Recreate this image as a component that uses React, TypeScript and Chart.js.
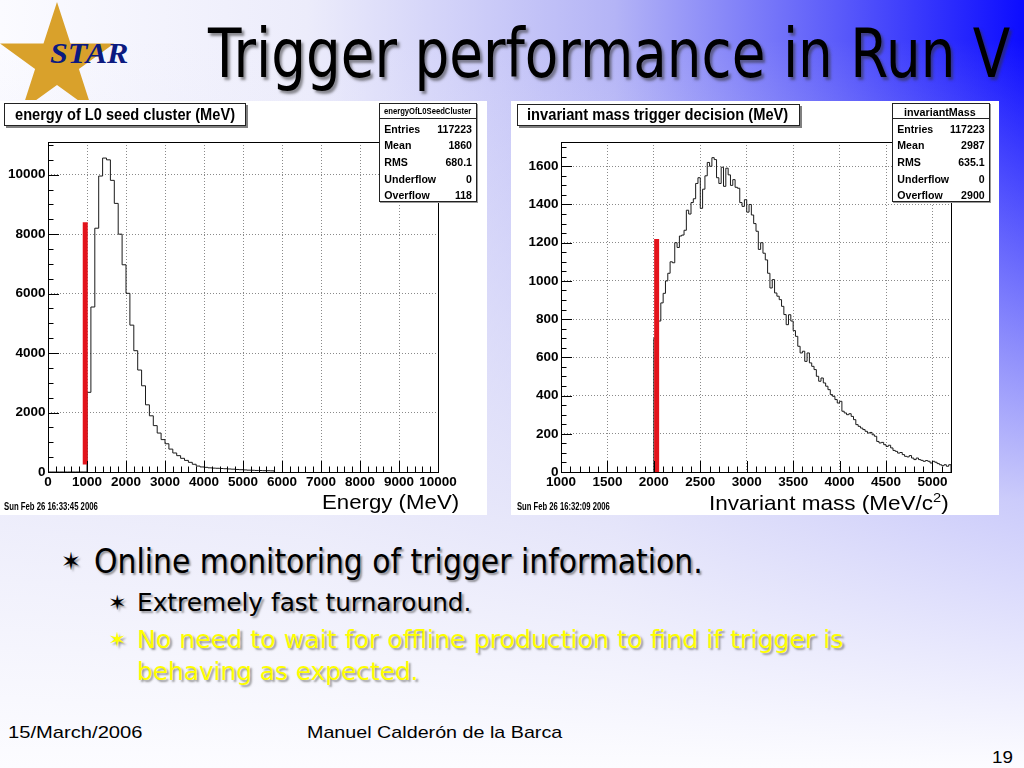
import React, { useEffect, useLayoutEffect, useRef, useState } from "react";
import { Chart, registerables } from "chart.js";

Chart.register(...registerables);

// ================= DATA =================
// Left histogram: energy of L0 seed cluster, 100 MeV bins starting at 0
const energyBinLow = 0;
const energyBinWidth = 100;
const energyCounts = [
  0, 0, 0, 0, 0, 0, 0, 0, 0, 0,
  2680, 5550, 8200, 9955, 10560, 10500, 9810, 9035, 8000, 6970,
  6010, 4940, 4080, 3430, 2900, 2260, 1890, 1560, 1310, 1090,
  950, 770, 640, 550, 460, 390, 325, 260, 200, 170,
  157, 140, 130, 125, 118, 110, 102, 95, 85, 78,
  70, 62, 58, 52, 50, 45, 44, 40,
];
const energyCut = 955;
const energyCutSpan = [250, 8400];
const energyXTicks = [0, 1000, 2000, 3000, 4000, 5000, 6000, 7000, 8000, 9000, 10000];
const energyYTicks = [0, 2000, 4000, 6000, 8000, 10000];
const energyXRange = [0, 10000];
const energyYRange = [0, 11100];
const energyStatLabels = ["Entries", "Mean", "RMS", "Underflow", "Overflow"];
const energyStatValues = ["117223", "1860", "680.1", "0", "118"];

// Right histogram: invariant mass trigger decision, 25 MeV bins starting at 2000
const massBinLow = 2000;
const massBinWidth = 25;
const massCounts = [
  700, 740, 790, 885, 935, 1000, 1040, 1100, 1095, 1200,
  1175, 1235, 1240, 1265, 1370, 1350, 1410, 1430, 1510, 1540,
  1380, 1480, 1550, 1620, 1600, 1645, 1635, 1540, 1510, 1595,
  1495, 1590, 1555, 1500, 1530, 1490, 1485, 1410, 1390, 1425,
  1360, 1400, 1345, 1300, 1260, 1165, 1200, 1145, 1110, 1040,
  963, 1007, 937, 920, 902, 867, 824, 771, 823, 790,
  740, 710, 658, 623, 632, 579, 623, 571, 553, 536,
  501, 475, 492, 466, 449, 431, 405, 396, 379, 361,
  370, 318, 309, 300, 305, 291, 274, 248, 239, 230,
  222, 213, 204, 207, 195, 187, 160, 152, 155, 143,
  134, 140, 126, 113, 108, 99, 102, 91, 82, 79,
  86, 73, 65, 73, 65, 61, 56, 60, 56, 47,
  56, 51, 44, 38, 33, 38, 30, 38,
];
const massCut = 2030;
const massCutSpan = [0, 1220];
const massXTicks = [1000, 1500, 2000, 2500, 3000, 3500, 4000, 4500, 5000];
const massYTicks = [0, 200, 400, 600, 800, 1000, 1200, 1400, 1600];
const massXRange = [1000, 5200];
const massYRange = [0, 1727];
const massStatLabels = ["Entries", "Mean", "RMS", "Underflow", "Overflow"];
const massStatValues = ["117223", "2987", "635.1", "0", "2900"];

// ================= STYLE =================
const FONT_NARROW = "'Liberation Sans Narrow', 'Liberation Sans', Arial, sans-serif";
const FONT_SANS = "'Liberation Sans', Arial, sans-serif";
const FONT_SLIDE = "'DejaVu Sans', Verdana, sans-serif";
const FONT_SERIF = "'Liberation Serif', 'DejaVu Serif', serif";

// Fit text: positions a text by baseline and stretches it horizontally to a given width
function Fit(props: any) {
  const { x, base, w, size, family, weight = "normal", color = "#000", shadow, italic, children } = props;
  const ref = useRef<HTMLSpanElement>(null);
  const [sx, setSx] = useState(1);
  useLayoutEffect(() => {
    const el = ref.current;
    if (!el) return;
    const nat = el.offsetWidth;
    if (nat > 0 && w) setSx(w / nat);
  }, [w, size, family]);
  return (
    <span
      ref={ref}
      style={{
        position: "absolute",
        left: x,
        top: base - 0.846 * size,
        fontSize: size,
        lineHeight: `${size}px`,
        fontFamily: family,
        fontWeight: weight,
        fontStyle: italic ? "italic" : "normal",
        color,
        whiteSpace: "nowrap",
        transform: `scaleX(${sx})`,
        transformOrigin: "0 0",
        textShadow: shadow,
      }}
    >
      {children}
    </span>
  );
}

const rootAxesPlugin = {
  id: "rootAxes",
  afterDatasetsDraw(chart: any, _args: any, opts: any) {
    const { ctx, chartArea: a } = chart;
    const xs = chart.scales.x;
    const ys = chart.scales.y;
    const n = (v: number) => Math.round(v) + 0.5;
    ctx.save();
    ctx.strokeStyle = "#000";
    ctx.lineWidth = 1;
    ctx.beginPath();
    for (let v = xs.min; v <= xs.max + 1e-6; v += opts.xMinor) {
      const major = Math.round(v) % opts.xMajor === 0;
      const len = major ? 11 : 5.5;
      const px = n(xs.getPixelForValue(v));
      ctx.moveTo(px, a.bottom);
      ctx.lineTo(px, a.bottom - len);
    }
    for (let v = ys.min; v <= ys.max + 1e-6; v += opts.yMinor) {
      const major = Math.round(v) % opts.yMajor === 0;
      const len = major ? 11 : 5.5;
      const py = n(ys.getPixelForValue(v));
      ctx.moveTo(a.left, py);
      ctx.lineTo(a.left + len, py);
    }
    ctx.stroke();
    ctx.strokeRect(n(a.left), n(a.top), Math.round(a.right) - Math.round(a.left), Math.round(a.bottom) - Math.round(a.top));
    ctx.restore();
  },
};

function HistChart(p: any) {
  const ref = useRef<HTMLCanvasElement>(null);
  useEffect(() => {
    const c = ref.current;
    if (!c) return;
    const hist = [
      { x: p.binLow, y: 0 },
      ...p.counts.map((v: number, i: number) => ({ x: p.binLow + i * p.binW, y: v })),
      { x: p.binLow + p.counts.length * p.binW, y: 0 },
    ];
    const tickFont = { family: FONT_NARROW, size: 13.5, weight: "bold" };
    const chart = new Chart(c, {
      type: "line",
      data: {
        datasets: [
          {
            data: [
              { x: p.cut, y: p.cutSpan[0] },
              { x: p.cut, y: p.cutSpan[1] },
            ],
            borderColor: "#e3141c",
            borderWidth: 5,
            borderCapStyle: "butt",
            pointRadius: 0,
            order: 0,
          },
          {
            data: hist,
            stepped: "before",
            borderColor: "#1a1a1a",
            borderWidth: 1,
            pointRadius: 0,
            fill: false,
            order: 1,
          },
        ],
      },
      options: {
        animation: false,
        responsive: false,
        maintainAspectRatio: false,
        events: [],
        layout: { padding: p.pad },
        plugins: {
          legend: { display: false },
          tooltip: { enabled: false },
          rootAxes: { xMinor: p.xMinor, xMajor: p.xMajor, yMinor: p.yMinor, yMajor: p.yMajor },
        },
        scales: {
          x: {
            type: "linear",
            min: p.xRange[0],
            max: p.xRange[1],
            afterBuildTicks: (s: any) => {
              s.ticks = p.xTicks.map((v: number) => ({ value: v }));
            },
            afterFit: (s: any) => {
              s.height = p.xAxisH;
            },
            ticks: {
              autoSkip: false,
              maxRotation: 0,
              padding: 2,
              color: "#000",
              font: tickFont,
              callback: (v: any) => String(v),
            },
            grid: { color: "#8a8a8a", lineWidth: 1, drawTicks: false },
            border: { display: false, dash: [1, 2] },
          },
          y: {
            type: "linear",
            min: p.yRange[0],
            max: p.yRange[1],
            afterBuildTicks: (s: any) => {
              s.ticks = p.yTicks.map((v: number) => ({ value: v }));
            },
            afterFit: (s: any) => {
              s.width = p.yAxisW;
            },
            ticks: {
              autoSkip: false,
              padding: 2.5,
              color: "#000",
              font: tickFont,
              callback: (v: any) => String(v),
            },
            grid: { color: "#8a8a8a", lineWidth: 1, drawTicks: false },
            border: { display: false, dash: [1, 2] },
          },
        },
      },
      plugins: [rootAxesPlugin],
    } as any);
    return () => chart.destroy();
  }, []);
  return <canvas ref={ref} width={p.w} height={p.h} style={{ display: "block", width: p.w, height: p.h }} />;
}

function StatsBox(props: any) {
  const { left, top, w, h, header, headerX, headerW, headerBase, headerSize, labels, values, labelX, valueR } = props;
  const fs = 10.6;
  return (
    <>
      <div
        style={{
          position: "absolute",
          left,
          top,
          width: w,
          height: h,
          boxSizing: "border-box",
          border: "1px solid #222",
          background: "#fff",
          boxShadow: "1px 1px 0 #999",
        }}
      />
      <div style={{ position: "absolute", left, top: 118, width: w, height: 1, background: "#222" }} />
      <Fit x={headerX} base={headerBase} w={headerW} size={headerSize} family={FONT_NARROW} weight="bold">
        {header}
      </Fit>
      {labels.map((lab: string, i: number) => (
        <div
          key={lab}
          style={{
            position: "absolute",
            left: labelX,
            width: valueR - labelX,
            top: 132.7 + i * 16.65 - 0.846 * fs,
            fontSize: fs,
            lineHeight: `${fs}px`,
            fontFamily: FONT_NARROW,
            fontWeight: "bold",
            display: "flex",
            justifyContent: "space-between",
            whiteSpace: "nowrap",
            color: "#000",
          }}
        >
          <span>{lab}</span>
          <span>{values[i]}</span>
        </div>
      ))}
    </>
  );
}

function TitleBox(props: any) {
  const { left, top, w, h, text, textX, textW } = props;
  return (
    <>
      <div
        style={{
          position: "absolute",
          left,
          top,
          width: w,
          height: h,
          boxSizing: "border-box",
          border: "1px solid #222",
          background: "#fff",
          boxShadow: "2px 2px 0 #808080",
        }}
      />
      <Fit x={textX} base={120.7} w={textW} size={17} family={FONT_NARROW} weight="bold">
        {text}
      </Fit>
    </>
  );
}

const starPoints = Array.from({ length: 10 }, (_, i) => {
  const ang = -Math.PI / 2 + (i * Math.PI) / 5;
  const r = i % 2 === 0 ? 60 : 23;
  return `${(57 + r * Math.cos(ang)).toFixed(1)},${(62 + r * Math.sin(ang)).toFixed(1)}`;
}).join(" ");

export default function App() {
  const shadowDark = "2px 2px 2px rgba(70,70,70,0.55)";
  const shadowYellow = "2px 2px 2px rgba(90,90,90,0.6)";
  return (
    <div
      style={{
        position: "fixed",
        left: 0,
        top: 0,
        width: 1024,
        height: 768,
        overflow: "hidden",
        background:
          "linear-gradient(180deg, rgba(255,255,255,0) 0px, rgba(255,255,255,0) 40px, rgba(234,234,250,0.86) 500px, rgba(252,252,255,1) 768px), linear-gradient(90deg, #fbfbff 0%, #ececfb 30%, #b4b4f6 60%, #5a5afa 82%, #0c0cff 100%)",
      }}
    >
      {/* STAR logo */}
      <svg width={130} height={100} style={{ position: "absolute", left: 0, top: 0 }}>
        <polygon points={starPoints} fill="#d9a12b" />
      </svg>
      <Fit x={50} base={63} w={78} size={30} family={FONT_SERIF} weight="bold" italic color="#0c1a80">
        STAR
      </Fit>

      {/* Title */}
      <Fit x={208} base={78} w={802} size={68} family={FONT_SLIDE} shadow="3px 3px 3px rgba(50,50,50,0.55)">
        Trigger performance in Run V
      </Fit>

      {/* Left panel */}
      <div style={{ position: "absolute", left: 0, top: 101, width: 487, height: 414, background: "#fff" }}>
        <HistChart
          w={487}
          h={414}
          pad={{ left: 0, top: 41, right: 49, bottom: 13 }}
          yAxisW={48}
          xAxisH={30}
          binLow={energyBinLow}
          binW={energyBinWidth}
          counts={energyCounts}
          cut={energyCut}
          cutSpan={energyCutSpan}
          xTicks={energyXTicks}
          yTicks={energyYTicks}
          xRange={energyXRange}
          yRange={energyYRange}
          xMinor={200}
          xMajor={1000}
          yMinor={500}
          yMajor={2000}
        />
      </div>
      <TitleBox left={4} top={102.7} w={242} h={23} text="energy of L0 seed cluster (MeV)" textX={15} textW={220} />
      <StatsBox
        left={379.3}
        top={103.3}
        w={98}
        h={98.4}
        header="energyOfL0SeedCluster"
        headerX={384.3}
        headerW={87.4}
        headerBase={114.5}
        headerSize={8.5}
        labels={energyStatLabels}
        values={energyStatValues}
        labelX={384.3}
        valueR={472}
      />
      <Fit x={4} base={510} w={93.7} size={10} family={FONT_NARROW} weight="bold">
        Sun Feb 26 16:33:45 2006
      </Fit>
      <Fit x={321.7} base={508.3} w={137.6} size={21} family={FONT_SANS}>
        Energy (MeV)
      </Fit>

      {/* Right panel */}
      <div style={{ position: "absolute", left: 511, top: 101, width: 488, height: 414, background: "#fff" }}>
        <HistChart
          w={488}
          h={414}
          pad={{ left: 0, top: 41, right: 48, bottom: 13 }}
          yAxisW={50}
          xAxisH={30}
          binLow={massBinLow}
          binW={massBinWidth}
          counts={massCounts}
          cut={massCut}
          cutSpan={massCutSpan}
          xTicks={massXTicks}
          yTicks={massYTicks}
          xRange={massXRange}
          yRange={massYRange}
          xMinor={100}
          xMajor={500}
          yMinor={50}
          yMajor={200}
        />
      </div>
      <TitleBox left={516.7} top={104} w={283} h={22} text="invariant mass trigger decision (MeV)" textX={527} textW={261} />
      <StatsBox
        left={892.3}
        top={103.3}
        w={98}
        h={98.4}
        header="invariantMass"
        headerX={904.3}
        headerW={71.4}
        headerBase={116}
        headerSize={11.6}
        labels={massStatLabels}
        values={massStatValues}
        labelX={897.3}
        valueR={984.7}
      />
      <Fit x={516.7} base={510} w={92.6} size={10} family={FONT_NARROW} weight="bold">
        Sun Feb 26 16:32:09 2006
      </Fit>
      <Fit x={709} base={509.3} w={240.3} size={21} family={FONT_SANS}>
        Invariant mass (MeV/c
        <span style={{ fontSize: "0.65em", position: "relative", top: "-0.55em" }}>2</span>)
      </Fit>

      {/* Bullets */}
      <Fit x={61} base={570} w={20} size={25} family={FONT_SLIDE} shadow={shadowDark}>
        ✶
      </Fit>
      <Fit x={93.5} base={573.3} w={609} size={33} family={FONT_SLIDE} shadow={shadowDark}>
        Online monitoring of trigger information.
      </Fit>
      <Fit x={108} base={611} w={19} size={21} family={FONT_SLIDE} shadow={shadowDark}>
        ✶
      </Fit>
      <Fit x={137} base={611.7} w={335} size={24} family={FONT_SLIDE} shadow={shadowDark}>
        Extremely fast turnaround.
      </Fit>
      <Fit x={108} base={648} w={19} size={21} family={FONT_SLIDE} color="#ffff00" shadow={shadowYellow}>
        ✶
      </Fit>
      <Fit x={137} base={648.3} w={706} size={24} family={FONT_SLIDE} color="#ffff00" shadow={shadowYellow}>
        No need to wait for offline production to find if trigger is
      </Fit>
      <Fit x={137} base={680} w={281} size={24} family={FONT_SLIDE} color="#ffff00" shadow={shadowYellow}>
        behaving as expected.
      </Fit>

      {/* Footer */}
      <Fit x={8} base={738.3} w={134} size={17} family={FONT_SANS}>
        15/March/2006
      </Fit>
      <Fit x={307} base={738.3} w={255} size={17} family={FONT_SANS}>
        Manuel Calderón de la Barca
      </Fit>
      <Fit x={992} base={763} w={21} size={17} family={FONT_SANS}>
        19
      </Fit>
    </div>
  );
}
